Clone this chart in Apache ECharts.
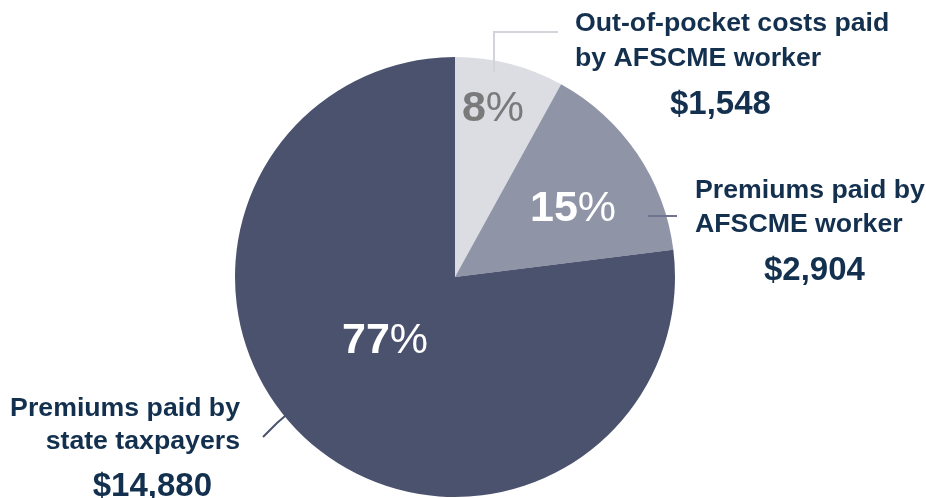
<!DOCTYPE html>
<html>
<head>
<meta charset="utf-8">
<script src="https://cdn.jsdelivr.net/npm/echarts@6/dist/echarts.min.js"></script>
<style>
html,body{margin:0;padding:0;background:#fff;}
#chart{width:926px;height:498px;}
</style>
</head>
<body>
<div id="chart"></div>
<script>
// ---- data ----
const categories = [
  'Out-of-pocket costs paid\nby AFSCME worker',
  'Premiums paid by\nAFSCME worker',
  'Premiums paid by\nstate taxpayers'
];
const amounts = [1548, 2904, 14880];
const amountLabels = ['$1,548', '$2,904', '$14,880'];
const percentLabels = ['8', '15', '77'];

// ---- styles ----
const sliceColors = ['#dcdde3', '#8f95a6', '#4b526e'];
const lineColors = ['#d2d4da', '#6e7490', '#4b526e'];
const pctColors = ['#7a7a7a', '#ffffff', '#ffffff'];
const navy = '#14304f';
const FONT = '"Liberation Sans", Arial, Helvetica, sans-serif';

// label placement (text blocks / pointer lines)
const outerLayout = [
  { x: 575, y: 6, align: 'left', pad: [0, 0, 0, 95], lh: 35,
    line: [[494, 72], [494, 32], [558, 32]] },
  { x: 695, y: 174, align: 'left', pad: [0, 0, 0, 69], lh: 34,
    line: [[648, 216], [662, 216], [677, 216]] },
  { x: 240, y: 392, align: 'right', pad: [0, 28, 0, 0], lh: 33,
    line: [[292, 410], [277, 423], [263, 437]] }
];
const innerLayout = [
  { x: 493, y: 109 },
  { x: 573, y: 209 },
  { x: 385, y: 341 }
];

const chart = echarts.init(document.getElementById('chart'), null, { renderer: 'canvas' });

const innerData = categories.map((c, i) => ({
  name: c,
  value: amounts[i],
  itemStyle: { color: sliceColors[i] },
  label: {
    formatter: '{n|' + percentLabels[i] + '}{p|%}',
    rich: {
      n: { fontFamily: FONT, fontWeight: 'bold', fontSize: 43, color: pctColors[i] },
      p: { fontFamily: FONT, fontWeight: 'normal', fontSize: 43, color: pctColors[i] }
    }
  }
}));

const outerData = categories.map((c, i) => ({
  name: c,
  value: amounts[i],
  label: {
    formatter: '{t|' + c.split('\n').join('}\n{t|') + '}\n{v|' + amountLabels[i] + '}',
    rich: {
      t: { fontFamily: FONT, fontWeight: 'bold', fontSize: 26.7, color: navy, lineHeight: outerLayout[i].lh },
      v: { fontFamily: FONT, fontWeight: 'bold', fontSize: 33, color: navy, lineHeight: 58, padding: outerLayout[i].pad }
    }
  },
  labelLine: { lineStyle: { color: lineColors[i], width: 2 } }
}));

chart.setOption({
  backgroundColor: '#ffffff',
  animation: false,
  series: [
    {
      type: 'pie',
      z: 2,
      center: [455, 277],
      radius: [0, 220],
      startAngle: 90,
      clockwise: true,
      silent: true,
      data: innerData,
      label: { show: true, position: 'inside' },
      labelLine: { show: false },
      labelLayout: function (params) {
        const L = innerLayout[params.dataIndex];
        return { x: L.x, y: L.y, align: 'center', verticalAlign: 'middle' };
      }
    },
    {
      type: 'pie',
      z: 3,
      center: [455, 277],
      radius: [0, 220],
      startAngle: 90,
      clockwise: true,
      silent: true,
      itemStyle: { color: 'rgba(0,0,0,0)', borderWidth: 0 },
      data: outerData,
      label: { show: true, position: 'outside' },
      labelLine: { show: true, length: 10, length2: 10, smooth: false },
      labelLayout: function (params) {
        const L = outerLayout[params.dataIndex];
        return {
          x: L.x, y: L.y, align: L.align, verticalAlign: 'top',
          labelLinePoints: L.line
        };
      }
    }
  ]
});
</script>
</body>
</html>
